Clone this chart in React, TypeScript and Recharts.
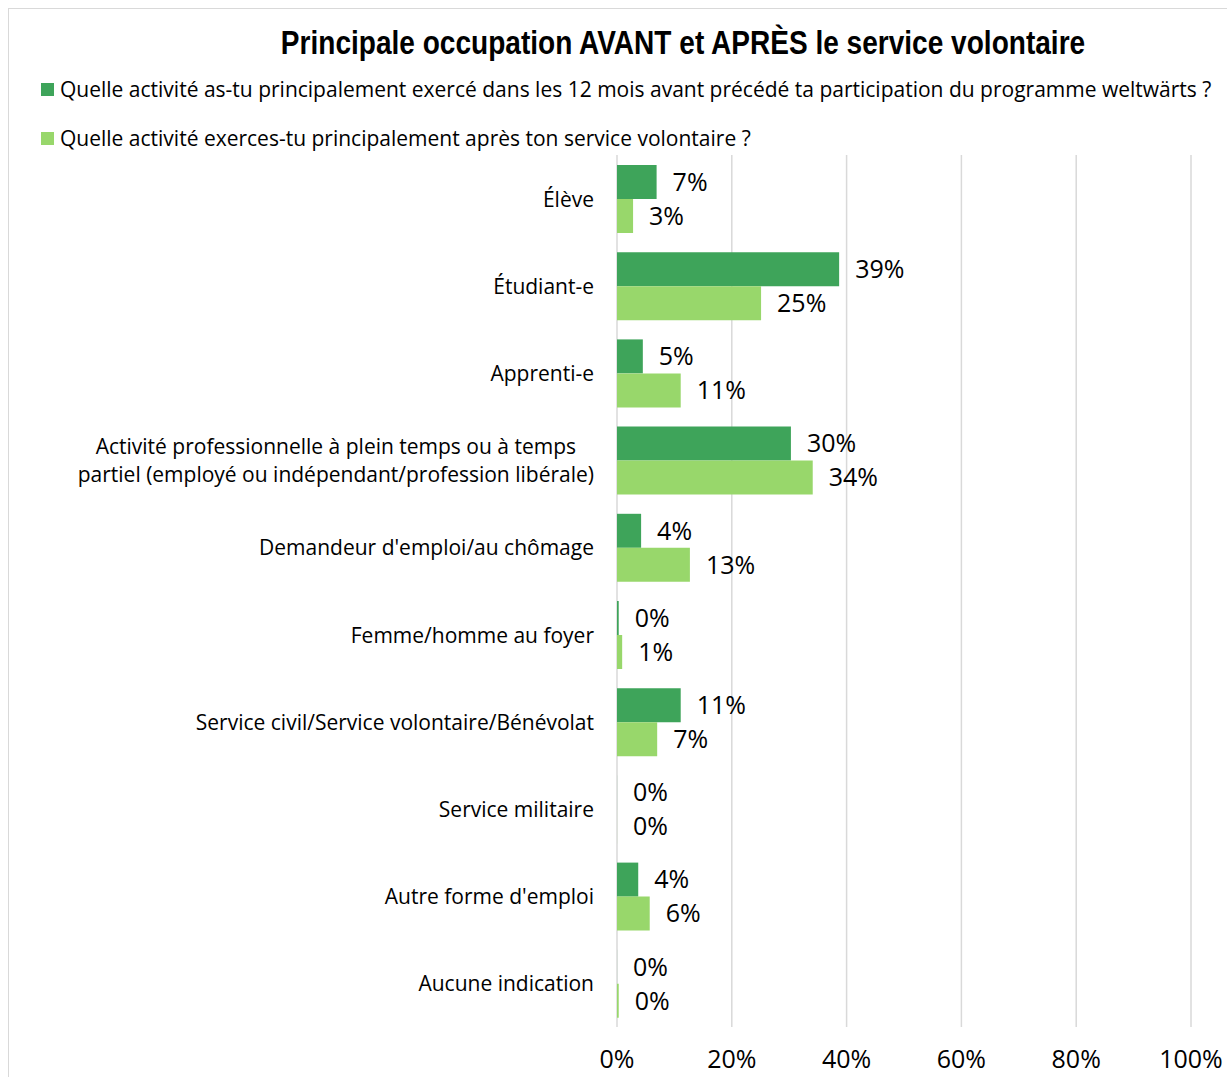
import React from "react";
import { BarChart, Bar, XAxis, YAxis, CartesianGrid, LabelList } from "recharts";

const categories = [
  "Élève",
  "Étudiant-e",
  "Apprenti-e",
  "Activité professionnelle à plein temps ou à temps partiel (employé ou indépendant/profession libérale)",
  "Demandeur d'emploi/au chômage",
  "Femme/homme au foyer",
  "Service civil/Service volontaire/Bénévolat",
  "Service militaire",
  "Autre forme d'emploi",
  "Aucune indication",
];

// 0.01 = shown as 0% (no visible bar)
const avantValues = [6.9, 38.7, 4.5, 30.3, 4.2, 0.3, 11.1, 0.01, 3.7, 0.01];
const apresValues = [2.8, 25.1, 11.1, 34.1, 12.7, 0.9, 7.0, 0.01, 5.7, 0.3];

const xTicks = [0, 20, 40, 60, 80, 100];

const avantLabel =
  "Quelle activité as-tu principalement exercé dans les 12 mois avant précédé ta participation du programme weltwärts ?";
const apresLabel = "Quelle activité exerces-tu principalement après ton service volontaire ?";
const title = "Principale occupation AVANT et APRÈS le service volontaire";

const DARK = "#3ea45a";
const LIGHT = "#98d76b";
const FONT = "'Open Sans', Carlito, Lato, sans-serif";

const data = categories.map((name, i) => ({
  name,
  avant: avantValues[i],
  apres: apresValues[i],
}));

let ctx: CanvasRenderingContext2D | null = null;
function measure(text: string, size: number) {
  if (!ctx) ctx = document.createElement("canvas").getContext("2d");
  if (!ctx) return text.length * size * 0.5;
  ctx.font = `${size}px ${FONT}`;
  return ctx.measureText(text).width;
}

function wrap(text: string, maxWidth: number, size: number) {
  const words = text.split(" ");
  const lines: string[] = [];
  let cur = "";
  for (const w of words) {
    const next = cur ? cur + " " + w : w;
    if (measure(next, size) > maxWidth && cur) {
      lines.push(cur);
      cur = w;
    } else cur = next;
  }
  if (cur) lines.push(cur);
  return lines;
}

const CAT_SIZE = 21;

const CategoryTick = (props: any) => {
  const { x, y, payload } = props;
  const lines = wrap(payload.value, 530, CAT_SIZE);
  const right = x - 15;
  const lh = 28;
  if (lines.length === 1) {
    return (
      <text x={right} y={y} textAnchor="end" dominantBaseline="central" fontSize={CAT_SIZE} fontFamily={FONT} fill="#000">
        {lines[0]}
      </text>
    );
  }
  const maxW = Math.max(...lines.map((l) => measure(l, CAT_SIZE)));
  const cx = right - maxW / 2;
  return (
    <text textAnchor="middle" fontSize={CAT_SIZE} fontFamily={FONT} fill="#000">
      {lines.map((l, i) => (
        <tspan key={i} x={cx} y={y + (i - (lines.length - 1) / 2) * lh} dominantBaseline="central">
          {l}
        </tspan>
      ))}
    </text>
  );
};

const pct = (v: any) => `${Math.round(Number(v))}%`;

export default function App() {
  return (
    <div
      style={{
        position: "fixed",
        left: 8,
        top: 8,
        width: 1219,
        height: 1069,
        overflow: "hidden",
        boxSizing: "border-box",
        borderTop: "1px solid #d9d9d9",
        borderLeft: "1px solid #d9d9d9",
        fontFamily: FONT,
        background: "#fff",
      }}
    >
      <div
        style={{
          position: "absolute",
          left: 130,
          width: 1088,
          top: 15,
          textAlign: "center",
          fontFamily: "'Liberation Sans', Arial, sans-serif",
          fontWeight: "bold",
          fontSize: 33,
          color: "#000",
          whiteSpace: "nowrap",
          transform: "scaleX(0.85)",
        }}
      >
        {title}
      </div>
      {[
        { label: avantLabel, color: DARK, top: 66 },
        { label: apresLabel, color: LIGHT, top: 115 },
      ].map((l) => (
        <div
          key={l.label}
          style={{
            position: "absolute",
            left: 32,
            top: l.top,
            display: "flex",
            alignItems: "center",
            fontSize: 21,
            whiteSpace: "nowrap",
            color: "#000",
          }}
        >
          <span style={{ width: 13, height: 13, background: l.color, display: "inline-block", marginRight: 6 }} />
          {l.label}
        </div>
      ))}
      <div style={{ position: "absolute", left: 0, top: 0 }}>
        <BarChart
          width={1218}
          height={1068}
          data={data}
          layout="vertical"
          margin={{ top: 146, right: 36, bottom: 20, left: 0 }}
          barGap={0}
          barSize={34}
        >
          <CartesianGrid horizontal={false} vertical stroke="#d9d9d9" strokeWidth={1.5} />
          <XAxis
            type="number"
            domain={[0, 100]}
            ticks={xTicks}
            tickFormatter={(v) => `${v}%`}
            axisLine={false}
            tickLine={false}
            tickMargin={17}
            height={30}
            tick={{ fontSize: 25, fill: "#000", fontFamily: FONT }}
            interval={0}
          />
          <YAxis
            type="category"
            dataKey="name"
            width={608}
            axisLine={false}
            tickLine={false}
            tick={<CategoryTick />}
            interval={0}
          />
          <Bar dataKey="avant" fill={DARK} isAnimationActive={false}>
            <LabelList dataKey="avant" position="right" offset={16} formatter={pct} style={{ fontSize: 25, fill: "#000", fontFamily: FONT }} />
          </Bar>
          <Bar dataKey="apres" fill={LIGHT} isAnimationActive={false}>
            <LabelList dataKey="apres" position="right" offset={16} formatter={pct} style={{ fontSize: 25, fill: "#000", fontFamily: FONT }} />
          </Bar>
        </BarChart>
      </div>
    </div>
  );
}
